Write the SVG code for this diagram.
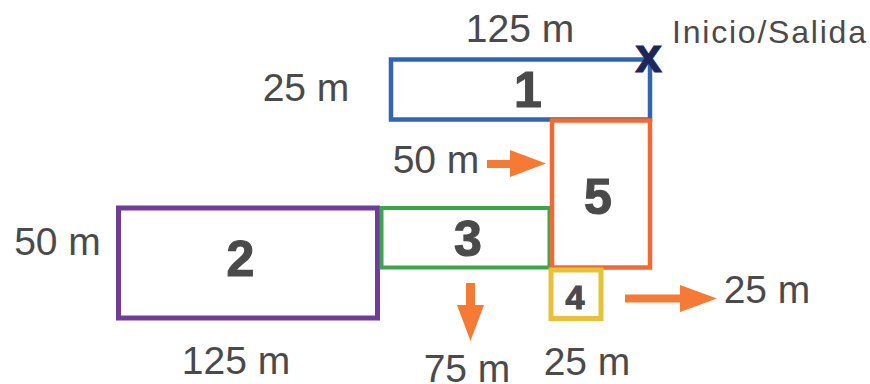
<svg xmlns="http://www.w3.org/2000/svg" width="870" height="384" viewBox="0 0 870 384">
  <style>
    .plot { fill: none; stroke-linejoin: miter; }
    .lbl { font-family: "Liberation Sans", Arial, sans-serif; font-size: 39px; fill: #4a4a4a; text-anchor: middle; }
    .num { font-family: "Liberation Sans", Arial, sans-serif; font-weight: bold; font-size: 50px; fill: #4a4a4a; stroke: #4a4a4a; stroke-width: 1.2; text-anchor: middle; }
    .arrow { fill: #f47a35; }
  </style>
  <rect width="870" height="384" fill="#ffffff"/>

  <!-- plot 2 -->
  <g id="plot2">
    <rect class="plot" x="118.5" y="208" width="259" height="110" stroke="#703c98" stroke-width="5"/>
    <text class="num" x="240.5" y="276">2</text>
  </g>

  <!-- plot 3 -->
  <g id="plot3">
    <rect class="plot" x="381.5" y="208" width="168" height="59.5" stroke="#3aa64b" stroke-width="4"/>
    <text class="num" x="468" y="256">3</text>
  </g>

  <!-- plot 1 -->
  <g id="plot1">
    <rect class="plot" x="391" y="59.5" width="259" height="60" stroke="#3464b0" stroke-width="4.5"/>
    <text class="num" x="528" y="107">1</text>
  </g>

  <!-- plot 5 -->
  <g id="plot5">
    <rect class="plot" x="552" y="120.5" width="98" height="147" stroke="#f26a31" stroke-width="4.5"/>
    <text class="num" x="598" y="214">5</text>
  </g>

  <!-- plot 4 -->
  <g id="plot4">
    <rect class="plot" x="551" y="270" width="50" height="48.5" stroke="#e8c13b" stroke-width="5"/>
    <text class="num" x="575" y="309" style="font-size:34px">4</text>
  </g>

  <!-- start / exit mark -->
  <g id="start">
    <text x="648.5" y="71.5" text-anchor="middle" style="font-family:'Liberation Sans',Arial,sans-serif;font-weight:bold;font-size:48px;fill:#1e2558;stroke:#1e2558;stroke-width:1">x</text>
    <text x="672" y="43" textLength="194" lengthAdjust="spacing" style="font-family:'Liberation Sans',Arial,sans-serif;font-size:32px;fill:#4a4a4a">Inicio/Salida</text>
  </g>

  <!-- direction arrows -->
  <g id="connectors">
    <path class="arrow" d="M487,160 H510 V150 L546,163.5 L510,177 V168 H487 Z"/>
    <path class="arrow" d="M466,283 H475 V305 H484 L470.5,341 L457,305 H466 Z"/>
    <path class="arrow" d="M625,294.5 H680 V285 L717,298.5 L680,312 V302.5 H625 Z"/>
  </g>

  <!-- dimension labels -->
  <g id="labels">
    <text class="lbl" x="520" y="41.5">125 m</text>
    <text class="lbl" x="306" y="100.5">25 m</text>
    <text class="lbl" x="436" y="172.5">50 m</text>
    <text class="lbl" x="57.5" y="255">50 m</text>
    <text class="lbl" x="236" y="373.5">125 m</text>
    <text class="lbl" x="467" y="382">75 m</text>
    <text class="lbl" x="587" y="374.5">25 m</text>
    <text class="lbl" x="767" y="302.5">25 m</text>
  </g>
</svg>
